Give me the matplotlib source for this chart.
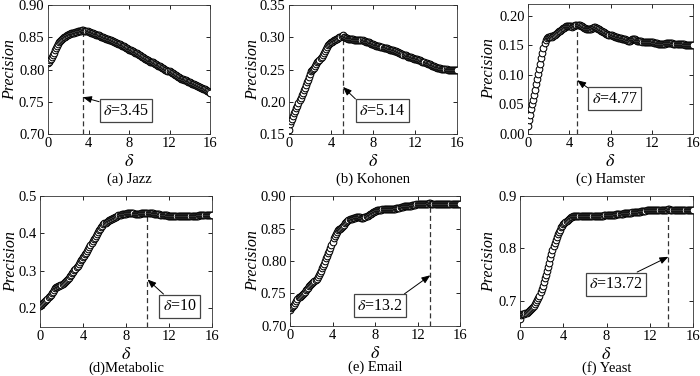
import numpy as np
import matplotlib
matplotlib.use("Agg")
import matplotlib.pyplot as plt

plt.rcParams['font.family'] = ['Liberation Serif', 'DejaVu Serif']
plt.rcParams['mathtext.fontset'] = 'stix'

# delta grid, step 0.1
delta = np.linspace(0, 16, 161)

# precision values (x = 0.0, 0.1, ..., 16.0)
jazz = [0.810, 0.812, 0.814, 0.816, 0.819, 0.822, 0.826, 0.830, 0.833, 0.837,
        0.840, 0.842, 0.844, 0.846, 0.848, 0.849, 0.850, 0.851, 0.852, 0.853,
        0.854, 0.855, 0.855, 0.856, 0.856, 0.857, 0.857, 0.858, 0.858, 0.858,
        0.859, 0.859, 0.860, 0.860, 0.861, 0.861, 0.860, 0.860, 0.859, 0.859,
        0.858, 0.858, 0.857, 0.857, 0.856, 0.855, 0.855, 0.854, 0.854, 0.853,
        0.853, 0.852, 0.851, 0.851, 0.850, 0.849, 0.849, 0.848, 0.847, 0.847,
        0.846, 0.846, 0.845, 0.844, 0.844, 0.843, 0.842, 0.841, 0.841, 0.840,
        0.839, 0.839, 0.838, 0.837, 0.837, 0.836, 0.835, 0.834, 0.833, 0.832,
        0.831, 0.831, 0.830, 0.829, 0.828, 0.827, 0.826, 0.825, 0.825, 0.824,
        0.823, 0.822, 0.821, 0.820, 0.819, 0.818, 0.817, 0.816, 0.815, 0.814,
        0.813, 0.812, 0.812, 0.811, 0.811, 0.810, 0.809, 0.808, 0.807, 0.806,
        0.806, 0.805, 0.804, 0.803, 0.802, 0.801, 0.800, 0.799, 0.798, 0.798,
        0.797, 0.796, 0.795, 0.794, 0.793, 0.792, 0.791, 0.790, 0.789, 0.788,
        0.787, 0.786, 0.786, 0.785, 0.784, 0.783, 0.783, 0.782, 0.781, 0.780,
        0.780, 0.779, 0.778, 0.778, 0.777, 0.776, 0.776, 0.775, 0.774, 0.773,
        0.773, 0.772, 0.771, 0.770, 0.770, 0.769, 0.768, 0.767, 0.766, 0.765,
        0.763]

kohonen = [0.156, 0.166, 0.170, 0.174, 0.178, 0.182, 0.186, 0.190, 0.194, 0.198,
           0.202, 0.206, 0.210, 0.214, 0.218, 0.222, 0.226, 0.230, 0.234, 0.238,
           0.243, 0.247, 0.249, 0.251, 0.253, 0.256, 0.258, 0.261, 0.263, 0.265,
           0.268, 0.270, 0.273, 0.276, 0.279, 0.282, 0.285, 0.288, 0.290, 0.291,
           0.292, 0.293, 0.294, 0.295, 0.296, 0.297, 0.298, 0.299, 0.300, 0.301,
           0.302, 0.304, 0.301, 0.300, 0.299, 0.299, 0.298, 0.298, 0.298, 0.297,
           0.297, 0.297, 0.296, 0.296, 0.296, 0.296, 0.296, 0.295, 0.295, 0.295,
           0.295, 0.294, 0.294, 0.293, 0.293, 0.292, 0.292, 0.291, 0.290, 0.290,
           0.289, 0.288, 0.288, 0.287, 0.287, 0.286, 0.286, 0.285, 0.285, 0.285,
           0.284, 0.284, 0.283, 0.283, 0.282, 0.282, 0.281, 0.281, 0.280, 0.280,
           0.279, 0.279, 0.278, 0.277, 0.277, 0.276, 0.275, 0.274, 0.274, 0.273,
           0.272, 0.272, 0.271, 0.270, 0.270, 0.269, 0.269, 0.268, 0.268, 0.267,
           0.267, 0.266, 0.266, 0.265, 0.264, 0.264, 0.263, 0.262, 0.262, 0.261,
           0.260, 0.260, 0.259, 0.258, 0.258, 0.257, 0.256, 0.256, 0.255, 0.254,
           0.254, 0.253, 0.253, 0.252, 0.252, 0.251, 0.251, 0.251, 0.251, 0.251,
           0.251, 0.250, 0.250, 0.250, 0.250, 0.250, 0.250, 0.250, 0.250, 0.250,
           0.250]

hamster = [0.014, 0.024, 0.033, 0.042, 0.050, 0.058, 0.066, 0.075, 0.084, 0.093,
           0.101, 0.110, 0.119, 0.128, 0.137, 0.146, 0.154, 0.159, 0.162, 0.164,
           0.165, 0.165, 0.166, 0.165, 0.166, 0.167, 0.168, 0.169, 0.171, 0.172,
           0.174, 0.175, 0.176, 0.177, 0.179, 0.180, 0.181, 0.182, 0.182, 0.182,
           0.183, 0.182, 0.182, 0.181, 0.182, 0.183, 0.184, 0.185, 0.185, 0.184,
           0.184, 0.183, 0.182, 0.181, 0.180, 0.179, 0.178, 0.177, 0.177, 0.177,
           0.177, 0.178, 0.179, 0.180, 0.181, 0.181, 0.180, 0.179, 0.178, 0.177,
           0.176, 0.175, 0.174, 0.173, 0.172, 0.171, 0.170, 0.169, 0.168, 0.168,
           0.167, 0.167, 0.166, 0.166, 0.165, 0.165, 0.164, 0.163, 0.163, 0.162,
           0.162, 0.161, 0.161, 0.160, 0.160, 0.159, 0.159, 0.158, 0.158, 0.158,
           0.159, 0.160, 0.161, 0.161, 0.160, 0.159, 0.158, 0.158, 0.157, 0.157,
           0.157, 0.156, 0.156, 0.156, 0.156, 0.155, 0.155, 0.155, 0.155, 0.155,
           0.155, 0.155, 0.154, 0.154, 0.154, 0.154, 0.153, 0.153, 0.153, 0.153,
           0.153, 0.153, 0.153, 0.153, 0.154, 0.154, 0.154, 0.154, 0.154, 0.154,
           0.154, 0.153, 0.153, 0.153, 0.153, 0.153, 0.152, 0.152, 0.152, 0.152,
           0.152, 0.152, 0.151, 0.151, 0.151, 0.151, 0.151, 0.151, 0.151, 0.151,
           0.151]

metabolic = [0.205, 0.208, 0.211, 0.214, 0.217, 0.220, 0.223, 0.226, 0.229, 0.232,
             0.236, 0.240, 0.244, 0.249, 0.254, 0.257, 0.258, 0.259, 0.260, 0.261,
             0.263, 0.265, 0.267, 0.270, 0.273, 0.276, 0.279, 0.282, 0.286, 0.290,
             0.294, 0.298, 0.302, 0.306, 0.310, 0.314, 0.318, 0.323, 0.328, 0.333,
             0.337, 0.341, 0.345, 0.349, 0.354, 0.359, 0.364, 0.369, 0.374, 0.379,
             0.384, 0.389, 0.394, 0.399, 0.404, 0.409, 0.413, 0.417, 0.421, 0.424,
             0.427, 0.429, 0.431, 0.433, 0.435, 0.436, 0.438, 0.439, 0.441, 0.442,
             0.443, 0.445, 0.446, 0.448, 0.449, 0.450, 0.451, 0.452, 0.452, 0.453,
             0.453, 0.454, 0.454, 0.454, 0.454, 0.454, 0.454, 0.454, 0.453, 0.453,
             0.453, 0.453, 0.453, 0.453, 0.454, 0.454, 0.454, 0.455, 0.455, 0.455,
             0.455, 0.455, 0.454, 0.454, 0.454, 0.454, 0.453, 0.453, 0.452, 0.452,
             0.451, 0.451, 0.450, 0.450, 0.449, 0.449, 0.448, 0.448, 0.448, 0.447,
             0.447, 0.447, 0.446, 0.446, 0.446, 0.446, 0.446, 0.446, 0.446, 0.446,
             0.446, 0.446, 0.446, 0.446, 0.446, 0.446, 0.446, 0.446, 0.446, 0.446,
             0.446, 0.446, 0.446, 0.446, 0.446, 0.446, 0.447, 0.447, 0.448, 0.448,
             0.449, 0.449, 0.449, 0.449, 0.449, 0.449, 0.449, 0.448, 0.448, 0.448,
             0.448]

email = [0.724, 0.727, 0.729, 0.731, 0.733, 0.736, 0.739, 0.742, 0.744, 0.745,
         0.746, 0.747, 0.749, 0.751, 0.753, 0.755, 0.757, 0.759, 0.761, 0.763,
         0.764, 0.766, 0.767, 0.769, 0.771, 0.773, 0.776, 0.779, 0.782, 0.785,
         0.789, 0.792, 0.796, 0.800, 0.804, 0.808, 0.812, 0.816, 0.820, 0.825,
         0.830, 0.835, 0.839, 0.842, 0.845, 0.847, 0.849, 0.850, 0.851, 0.852,
         0.854, 0.856, 0.858, 0.860, 0.862, 0.863, 0.864, 0.865, 0.865, 0.866,
         0.866, 0.866, 0.867, 0.867, 0.867, 0.867, 0.867, 0.866, 0.866, 0.866,
         0.867, 0.868, 0.869, 0.870, 0.871, 0.872, 0.873, 0.874, 0.875, 0.876,
         0.877, 0.877, 0.878, 0.878, 0.879, 0.879, 0.879, 0.880, 0.880, 0.880,
         0.880, 0.880, 0.880, 0.880, 0.880, 0.880, 0.880, 0.880, 0.880, 0.880,
         0.881, 0.881, 0.882, 0.882, 0.883, 0.883, 0.883, 0.884, 0.884, 0.884,
         0.884, 0.885, 0.885, 0.885, 0.885, 0.886, 0.886, 0.886, 0.886, 0.887,
         0.887, 0.887, 0.887, 0.888, 0.888, 0.888, 0.888, 0.888, 0.888, 0.888,
         0.888, 0.889, 0.889, 0.888, 0.888, 0.888, 0.888, 0.888, 0.888, 0.888,
         0.888, 0.888, 0.888, 0.888, 0.888, 0.888, 0.888, 0.887, 0.887, 0.887,
         0.887, 0.887, 0.887, 0.887, 0.887, 0.888, 0.888, 0.888, 0.888, 0.888,
         0.888]

yeast = [0.666, 0.673, 0.674, 0.674, 0.675, 0.676, 0.677, 0.678, 0.680, 0.682,
         0.684, 0.686, 0.688, 0.691, 0.694, 0.697, 0.701, 0.705, 0.710, 0.716,
         0.722, 0.729, 0.736, 0.743, 0.750, 0.757, 0.765, 0.773, 0.781, 0.789,
         0.797, 0.804, 0.810, 0.816, 0.822, 0.827, 0.832, 0.836, 0.840, 0.843,
         0.846, 0.849, 0.851, 0.853, 0.855, 0.857, 0.858, 0.859, 0.860, 0.861,
         0.861, 0.862, 0.862, 0.862, 0.862, 0.862, 0.862, 0.862, 0.862, 0.862,
         0.862, 0.862, 0.862, 0.862, 0.862, 0.862, 0.861, 0.861, 0.861, 0.861,
         0.861, 0.862, 0.862, 0.862, 0.862, 0.862, 0.862, 0.862, 0.863, 0.863,
         0.863, 0.863, 0.863, 0.863, 0.864, 0.864, 0.864, 0.864, 0.864, 0.865,
         0.865, 0.865, 0.865, 0.866, 0.866, 0.866, 0.867, 0.867, 0.867, 0.867,
         0.868, 0.868, 0.868, 0.868, 0.869, 0.869, 0.869, 0.869, 0.870, 0.870,
         0.870, 0.870, 0.871, 0.871, 0.871, 0.872, 0.872, 0.873, 0.873, 0.874,
         0.874, 0.874, 0.874, 0.874, 0.873, 0.873, 0.873, 0.873, 0.873, 0.873,
         0.873, 0.873, 0.874, 0.874, 0.874, 0.874, 0.874, 0.875, 0.875, 0.874,
         0.874, 0.874, 0.874, 0.874, 0.874, 0.874, 0.873, 0.873, 0.873, 0.873,
         0.873, 0.873, 0.873, 0.873, 0.873, 0.873, 0.873, 0.873, 0.873, 0.873,
         0.873]

series = [jazz, kohonen, hamster, metabolic, email, yeast]
captions = ["(a) Jazz", "(b) Kohonen", "(c) Hamster", "(d)Metabolic", "(e) Email", "(f) Yeast"]
best_delta = [3.45, 5.14, 4.77, 10, 13.2, 13.72]
best_label = ["3.45", "5.14", "4.77", "10", "13.2", "13.72"]
y_limits = [(0.70, 0.90), (0.15, 0.35), (0.0, 0.22), (0.15, 0.5), (0.70, 0.90), (0.65, 0.9)]
y_ticks = [np.arange(0.70, 0.901, 0.05), np.arange(0.15, 0.351, 0.05), np.arange(0.0, 0.201, 0.05),
           np.arange(0.2, 0.501, 0.1), np.arange(0.70, 0.901, 0.05), [0.7, 0.8, 0.9]]
y_fmt = ["%.2f", "%.2f", "%.2f", "%.1f", "%.2f", "%.1f"]

# layout: axes rectangles (figure fraction), annotation text spot, arrow tip height, arrow start in box
axes_rect = [[0.0686, 0.6436, 0.2314, 0.3431], [0.4129, 0.6436, 0.2400, 0.3431], [0.7543, 0.6436, 0.2357, 0.3457],
             [0.0571, 0.1303, 0.2457, 0.3484], [0.4143, 0.1330, 0.2429, 0.3457], [0.7429, 0.1303, 0.2471, 0.3484]]
text_xy = [(7.7, 0.736), (8.9, 0.186), (8.4, 0.060), (13.0, 0.206), (8.45, 0.731), (8.85, 0.732)]
tip_y = [0.757, 0.223, 0.091, 0.277, 0.778, 0.784]
arrow_rel = [(0.0, 1.0), (0.0, 1.0), (0.0, 1.0), (0.15, 1.0), (0.92, 1.0), (0.75, 1.0)]
caption_y = [-0.35, -0.35, -0.35, -0.315, -0.315, -0.315]
ylabel_x = [-0.182, -0.167, -0.188, -0.122, -0.171, -0.133]

fig = plt.figure(figsize=(7.0, 3.76), dpi=100)

for i in range(6):
    ax = fig.add_axes(axes_rect[i])
    y = np.array(series[i])
    ax.plot(delta, y, 'o', ms=4.8, mfc='white', mec='black', mew=0.75, zorder=3)

    # dashed line from the bottom up to the curve at the best delta
    k = int(round(best_delta[i] * 10))
    ax.plot([best_delta[i], best_delta[i]], [y_limits[i][0], y[k]], '--', color='#333333',
            lw=0.9, dashes=(4, 2.5), zorder=2)

    ax.annotate(r"$\delta$=" + best_label[i], xy=(best_delta[i], tip_y[i]), xytext=text_xy[i],
                ha='center', va='center', fontsize=11.5,
                bbox=dict(boxstyle='square,pad=0.22', fc='white', ec='#444444', lw=0.9),
                arrowprops=dict(arrowstyle='-|>,head_length=0.45,head_width=0.18', color='black', lw=0.7,
                                relpos=arrow_rel[i], shrinkA=0, shrinkB=0),
                zorder=4)

    ax.set_xlim(0, 16)
    ax.set_ylim(*y_limits[i])
    ax.set_xticks([0, 4, 8, 12, 16])
    ax.set_yticks(y_ticks[i])
    ax.set_yticklabels([y_fmt[i] % v for v in y_ticks[i]])
    ax.tick_params(direction='in', top=True, right=True, labelsize=10.5, length=3, width=0.6, pad=2.5)
    for sp in ax.spines.values():
        sp.set_linewidth(0.6)
        sp.set_color('#333333')
    ax.set_xlabel(r"$\delta$", fontsize=13, labelpad=1.5)
    ax.set_ylabel("Precision", fontsize=11.5, style='italic')
    ax.yaxis.set_label_coords(ylabel_x[i], 0.5)
    ax.text(0.5, caption_y[i], captions[i], transform=ax.transAxes, ha='center', va='center', fontsize=10.5)

fig.savefig("out.png", dpi=100)
